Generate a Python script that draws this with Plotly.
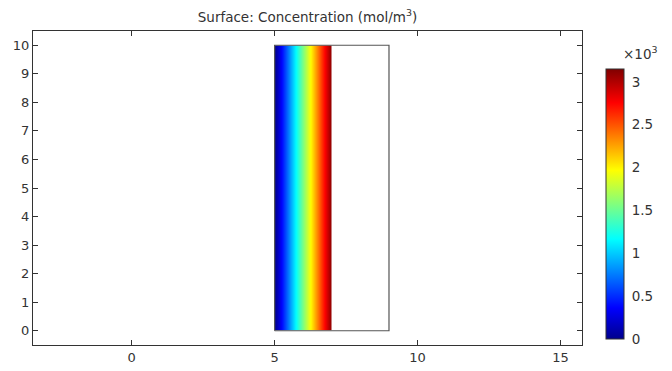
import plotly.graph_objects as go

# Geometry (m) and concentration field (x10^3 mol/m^3)
band_x = [5, 7]            # coloured sub-domain edges
band_y = [0, 10]
band_conc = [0.0, 3.15]    # concentration at left/right edge of band
domain_x = [5, 9]          # outlined full domain
domain_y = [0, 10]
x_ticks = [0, 5, 10, 15]
y_ticks = list(range(0, 11))
cbar_ticks = [0, 0.5, 1, 1.5, 2, 2.5, 3]
cbar_labels = ["0", "0.5", "1", "1.5", "2", "2.5", "3"]

jet = [[0.0, "rgb(0,0,140)"], [0.115, "rgb(0,0,255)"], [0.37, "rgb(0,255,255)"],
       [0.625, "rgb(255,255,0)"], [0.875, "rgb(255,0,0)"], [1.0, "rgb(128,0,0)"]]

fig = go.Figure()
fig.add_trace(go.Contour(
    x=band_x, y=band_y, z=[band_conc, band_conc],
    colorscale=jet, zmin=0, zmax=3.15, zauto=False,
    contours=dict(coloring="heatmap", showlines=False),
    line=dict(width=0),
    hoverinfo="skip",
    colorbar=dict(
        x=1.0437, xanchor="left", xpad=0,
        y=0.449, yanchor="middle", ypad=0,
        thickness=18, len=270, lenmode="pixels",
        tickvals=cbar_ticks, ticktext=cbar_labels,
        ticks="outside", ticklen=5, tickcolor="rgba(0,0,0,0)",
        tickfont=dict(family="DejaVu Sans", size=13.5, color="#333"),
        outlinewidth=1, outlinecolor="#333",
    ),
))
fig.add_trace(go.Scatter(
    x=[domain_x[0], domain_x[1], domain_x[1], domain_x[0], domain_x[0]],
    y=[domain_y[0], domain_y[0], domain_y[1], domain_y[1], domain_y[0]],
    mode="lines", line=dict(color="#555", width=1.2),
    hoverinfo="skip", showlegend=False,
))

axis_common = dict(
    showline=True, linecolor="#333", linewidth=1.2, mirror="ticks",
    ticks="inside", ticklen=5, tickcolor="#333",
    showgrid=False, zeroline=False, automargin=False,
    tickfont=dict(family="DejaVu Sans", size=13, color="#333"),
)
fig.update_xaxes(range=[-3.45, 15.75], tickvals=x_ticks, **axis_common)
fig.update_yaxes(range=[-0.5, 10.5], tickvals=y_ticks, **axis_common)

fig.update_layout(
    width=672, height=371,
    margin=dict(l=33, r=90, t=31, b=26, autoexpand=False),
    paper_bgcolor="white", plot_bgcolor="white",
    showlegend=False,
    title=dict(text="Surface: Concentration (mol/m<sup>3</sup>)",
               x=0.5, xref="paper", xanchor="center",
               y=1 - 17 / 371, yref="container", yanchor="middle",
               font=dict(family="DejaVu Sans", size=13.5, color="#333")),
    annotations=[dict(text="×10<sup>3</sup>", xref="paper", yref="paper",
                      x=1.106, y=0.93, xanchor="center", yanchor="middle",
                      showarrow=False,
                      font=dict(family="DejaVu Sans", size=13.5, color="#333"))],
)

fig.write_html("out.html")
